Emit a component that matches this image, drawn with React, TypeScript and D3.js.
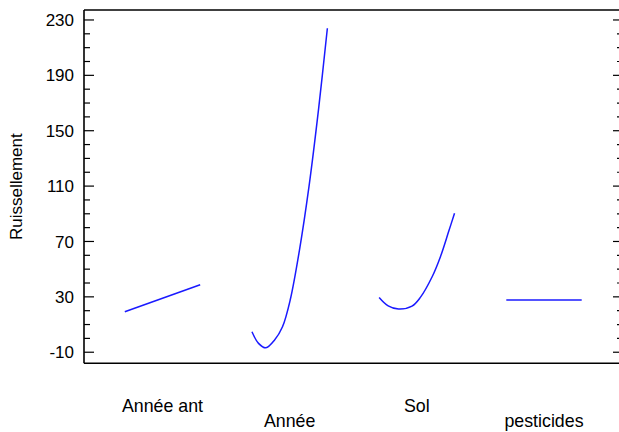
import React from "react";
import * as d3 from "d3";

// Factors along the horizontal axis
const factors = ["Année ant", "Année", "Sol", "pesticides"];

// Fitted response for each factor, from its low level (0) to its high level (1)
const anneeAntPos = [0, 1];
const anneeAntVals = [19.2, 38.7];

const anneePos = [0, 0.087, 0.185, 0.3, 0.405, 0.507, 0.63, 0.757, 0.884, 1];
const anneeVals = [4.8, -3.6, -6.8, -1.2, 8.4, 27.7, 63.8, 110, 166, 224];

const solPos = [0, 0.12, 0.257, 0.436, 0.547, 0.703, 0.813, 0.924, 1];
const solVals = [29.6, 23.5, 21.2, 23.3, 29.6, 44.5, 59, 77.5, 90.4];

const pestPos = [0, 1];
const pestVals = [27.7, 27.7];

const yTicks = [-10, 30, 70, 110, 150, 190, 230];
const yMinorTicks = d3.range(-10, 231, 10).filter((v) => !yTicks.includes(v));

const series = [
  { pos: anneeAntPos, vals: anneeAntVals },
  { pos: anneePos, vals: anneeVals },
  { pos: solPos, vals: solVals },
  { pos: pestPos, vals: pestVals },
];

const W = 619;
const H = 432;
const left = 84;
const right = 623;
const top = 10;
const bottom = 363.3;
const font = "'Liberation Sans', Arial, sans-serif";

export default function App() {
  const y = d3.scaleLinear().domain([-18, 237.2]).range([bottom, top]);
  const xc = d3.scalePoint<string>().domain(factors).range([162.5, 544]);
  const half = 37.7;

  return (
    <svg
      width={W}
      height={H}
      style={{ position: "absolute", left: 0, top: 0, background: "#fff" }}
      fontFamily={font}
    >
      {/* frame */}
      <g stroke="#000" strokeWidth={1.6} fill="none">
        <line x1={left} x2={right} y1={top} y2={top} />
        <line x1={left} x2={right} y1={bottom} y2={bottom} />
        <line x1={left} x2={left} y1={top} y2={bottom} />
        <line x1={right} x2={right} y1={top} y2={bottom} />
      </g>
      {/* ticks */}
      <g stroke="#000" strokeWidth={1.2}>
        {yTicks.map((t) => (
          <g key={"M" + t}>
            <line x1={left} x2={left + 10} y1={y(t)} y2={y(t)} />
            <line x1={right - 10} x2={right} y1={y(t)} y2={y(t)} />
          </g>
        ))}
        {yMinorTicks.map((t) => (
          <g key={"m" + t}>
            <line x1={left} x2={left + 6} y1={y(t)} y2={y(t)} />
            <line x1={right - 6} x2={right} y1={y(t)} y2={y(t)} />
          </g>
        ))}
      </g>
      {/* tick labels */}
      <g fontSize={17} fill="#000" textAnchor="end">
        {yTicks.map((t) => (
          <text key={"l" + t} x={74} y={y(t)} dy="0.36em">
            {t}
          </text>
        ))}
      </g>
      <text
        transform={`translate(22,${(top + bottom) / 2}) rotate(-90)`}
        textAnchor="middle"
        fontSize={17}
        fill="#000"
      >
        Ruissellement
      </text>
      {/* factor labels */}
      <g fontSize={17.8} fill="#000" textAnchor="middle">
        {factors.map((f, i) => (
          <text key={f} x={xc(f)} y={i % 2 === 0 ? 412 : 427}>
            {f}
          </text>
        ))}
      </g>
      {/* effect curves */}
      {series.map((s, i) => {
        const cx = xc(factors[i]) as number;
        const x = d3.scaleLinear().domain([0, 1]).range([cx - half, cx + half]);
        const pts = s.pos.map((p, j) => [p, s.vals[j]] as [number, number]);
        const line = d3
          .line<[number, number]>()
          .x((d) => x(d[0]))
          .y((d) => y(d[1]))
          .curve(d3.curveCatmullRom.alpha(0.5));
        return (
          <path
            key={i}
            d={line(pts) || ""}
            fill="none"
            stroke="#1a1aff"
            strokeWidth={1.5}
          />
        );
      })}
    </svg>
  );
}
